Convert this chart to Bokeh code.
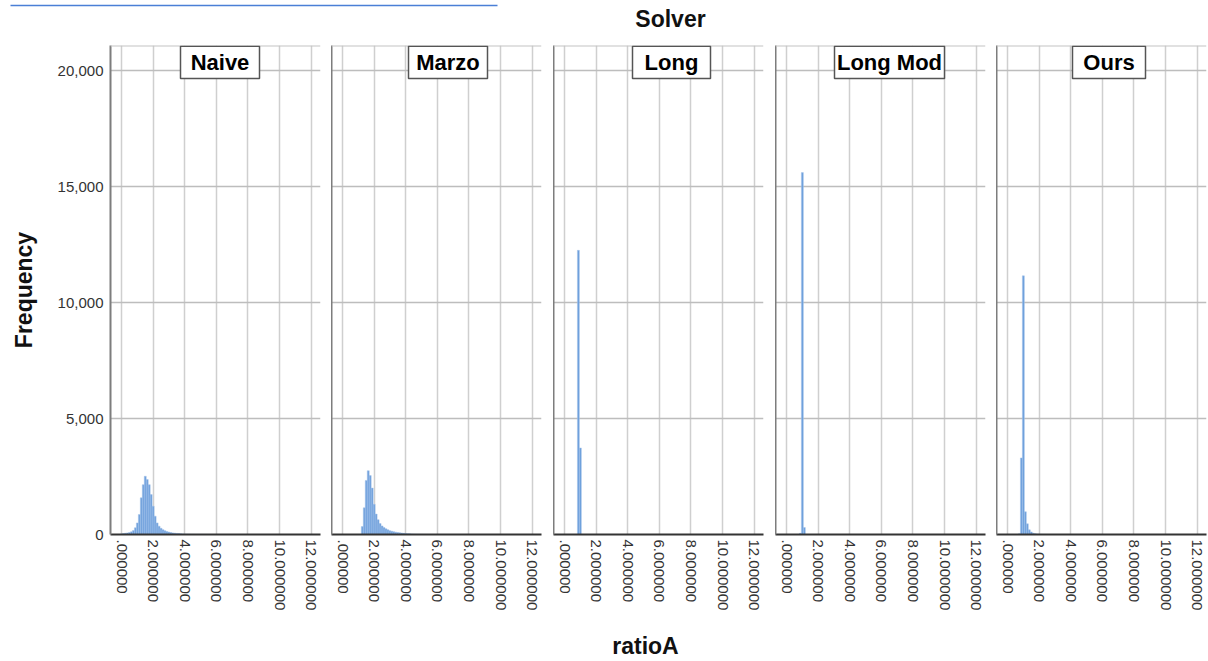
import math

from bokeh.embed import file_html
from bokeh.layouts import column, row
from bokeh.models import (BoxAnnotation, ColumnDataSource, FixedTicker, Label,
                          NumeralTickFormatter, Range1d, Span)
from bokeh.plotting import figure
from bokeh.resources import INLINE

# ---------------------------------------------------------------------------
# Data: histogram of ratioA per solver (bin width 0.125, counts per bin)
# ---------------------------------------------------------------------------
solvers = ["Naive", "Marzo", "Long", "Long Mod", "Ours"]
BIN_WIDTH = 0.125

# centre of the first bin of each solver
first_bin = {"Naive": 0.0, "Marzo": 1.25, "Long": 0.875, "Long Mod": 0.875, "Ours": 0.75}

naive_counts = [25, 40, 55, 70, 85, 115, 170, 290, 500, 860, 1580, 2150, 2510, 2370,
                2150, 1720, 1220, 790, 500, 360, 270, 210, 165, 130, 105, 85, 70, 57,
                46, 38, 31, 25, 20, 16, 13, 10, 8, 6, 5, 4, 3, 3, 2, 2, 1]
marzo_counts = [340, 1150, 2330, 2750, 2540, 2000, 1300, 880, 640, 470, 370, 300, 245,
                200, 165, 140, 118, 100, 85, 72, 60, 50, 42, 35, 28, 23, 18, 14, 11, 9,
                7, 5, 4, 3, 2, 2, 1]
long_counts = [12250, 3730]
long_mod_counts = [50, 15600, 300]
ours_counts = [30, 3300, 11150, 980, 460, 200, 110, 58, 35, 20, 12, 8, 5, 3, 2]

counts = {"Naive": naive_counts, "Marzo": marzo_counts, "Long": long_counts,
          "Long Mod": long_mod_counts, "Ours": ours_counts}

x_ticks = [0, 2, 4, 6, 8, 10, 12]
x_tick_labels = [".000000", "2.000000", "4.000000", "6.000000", "8.000000",
                 "10.000000", "12.000000"]
y_ticks = [0, 5000, 10000, 15000, 20000]

# ---------------------------------------------------------------------------
# Styling
# ---------------------------------------------------------------------------
FONT = "Liberation Sans"
BAR_FILL = "#6c9edb"
BAR_LINE = "#a6c4ea"
X_START, X_END = -0.7, 12.59
Y_END = 21080
FRAME_W, FRAME_H = 210, 489
PX_X = FRAME_W / (X_END - X_START)   # pixels per x unit
PX_Y = FRAME_H / Y_END               # pixels per count
RIGHT_GAP = [11, 12, 12, 11, 2]
# panel-title boxes: centre (px from frame left) and width (px)
TITLE_CENTER = [109.5, 116.5, 118, 114, 112.5]
TITLE_BOX_W = [79, 79, 78, 110, 73]
TITLE_BOX_H = 33


def make_panel(i, name):
    first = i == 0
    p = figure(x_range=Range1d(X_START, X_END), y_range=Range1d(0, Y_END),
               frame_width=FRAME_W, frame_height=FRAME_H,
               min_border_left=110 if first else 0, min_border_right=RIGHT_GAP[i],
               min_border_top=2, min_border_bottom=92,
               output_backend="svg", toolbar_location=None, tools="")
    p.outline_line_color = None
    p.background_fill_color = "white"
    p.border_fill_color = "white"

    c = counts[name]
    centres = [first_bin[name] + k * BIN_WIDTH for k in range(len(c))]
    src = ColumnDataSource(dict(x=centres, top=c))
    p.vbar(x="x", top="top", width=BIN_WIDTH, source=src,
           fill_color=BAR_FILL, line_color=BAR_LINE, line_width=0.5)

    # x axis
    xa = p.xaxis[0]
    xa.ticker = FixedTicker(ticks=x_ticks)
    xa.major_label_overrides = {t: lab for t, lab in zip(x_ticks, x_tick_labels)}
    xa.major_label_orientation = -math.pi / 2
    xa.major_label_text_font = FONT
    xa.major_label_text_font_size = "15px"
    xa.major_label_text_color = "#333333"
    xa.major_label_standoff = 5
    xa.major_tick_out = 0
    xa.major_tick_in = 0
    xa.minor_tick_out = 0
    xa.minor_tick_in = 0
    xa.axis_line_color = "#333333"
    xa.axis_line_width = 2

    # y axis: labelled on the first panel, a bare divider line on the others
    ya = p.yaxis[0]
    ya.major_tick_out = 0
    ya.major_tick_in = 0
    ya.minor_tick_out = 0
    ya.minor_tick_in = 0
    ya.axis_line_color = "#7d7d7d"
    ya.axis_line_width = 2
    if first:
        ya.ticker = FixedTicker(ticks=y_ticks)
        ya.formatter = NumeralTickFormatter(format="0,0")
        ya.major_label_text_font = FONT
        ya.major_label_text_font_size = "15px"
        ya.major_label_text_color = "#333333"
        ya.major_label_standoff = 7
        ya.axis_label = "Frequency"
        ya.axis_label_text_font = FONT
        ya.axis_label_text_font_style = "bold"
        ya.axis_label_text_font_size = "23px"
        ya.axis_label_text_color = "#111111"
        ya.axis_label_standoff = 18
    else:
        ya.ticker = FixedTicker(ticks=[])
        ya.major_label_standoff = 0
    p.ygrid.ticker = FixedTicker(ticks=y_ticks)

    # grid
    p.xgrid.grid_line_color = "#cfcfcf"
    p.xgrid.grid_line_width = 1.5
    p.ygrid.grid_line_color = "#bdbdbd"
    p.ygrid.grid_line_width = 1.5
    p.add_layout(Span(location=Y_END, dimension="width",
                      line_color="#c4c4c4", line_width=2))

    # boxed panel title
    cx = X_START + TITLE_CENTER[i] / PX_X
    half = TITLE_BOX_W[i] / 2 / PX_X
    p.add_layout(BoxAnnotation(left=cx - half, right=cx + half,
                               top=Y_END - 0.75 / PX_Y,
                               bottom=Y_END - TITLE_BOX_H / PX_Y,
                               fill_color="white", fill_alpha=1.0,
                               line_color="#555555", line_width=1.5,
                               line_alpha=1.0))
    p.add_layout(Label(x=cx, y=Y_END, y_offset=-TITLE_BOX_H / 2 - 0.5, text=name,
                       text_align="center", text_baseline="middle",
                       text_font=FONT, text_font_style="bold",
                       text_font_size="22px", text_color="#000000"))
    return p


panels = [make_panel(i, s) for i, s in enumerate(solvers)]

# header: rule and the facet variable name
header = figure(width=1208, height=43, x_range=Range1d(0, 1208), y_range=Range1d(43, 0),
                x_axis_type=None, y_axis_type=None, min_border=0,
                output_backend="svg", toolbar_location=None, tools="")
header.outline_line_color = None
header.grid.visible = False
header.segment(x0=[10], y0=[5], x1=[497], y1=[5], line_color="#4a7fd6", line_width=1.5)
header.add_layout(Label(x=670, y=18, text="Solver", text_align="center",
                        text_baseline="middle", text_font=FONT,
                        text_font_style="bold", text_font_size="23px",
                        text_color="#111111"))

# footer: shared x axis title
footer = figure(width=1208, height=35, x_range=Range1d(0, 1208), y_range=Range1d(35, 0),
                x_axis_type=None, y_axis_type=None, min_border=0,
                output_backend="svg", toolbar_location=None, tools="")
footer.outline_line_color = None
footer.grid.visible = False
footer.add_layout(Label(x=645, y=19, text="ratioA", text_align="center",
                        text_baseline="middle", text_font=FONT,
                        text_font_style="bold", text_font_size="23px",
                        text_color="#111111"))

layout = column(header, row(*panels, spacing=0), footer, spacing=0)

with open("out.html", "w") as f:
    f.write(file_html(layout, INLINE, title="ratioA by Solver"))
